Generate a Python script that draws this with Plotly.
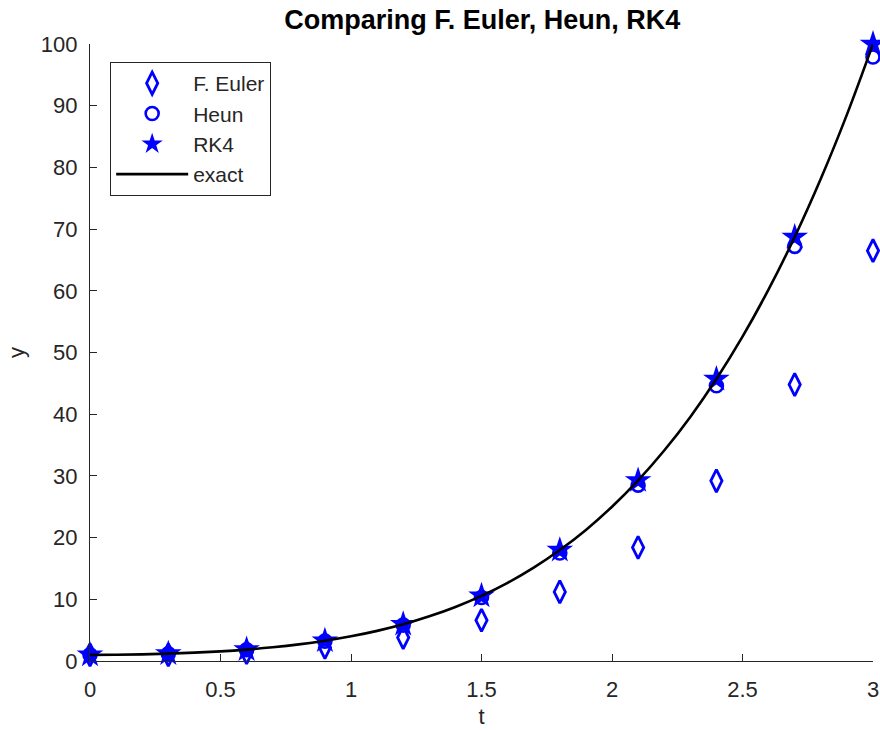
import plotly.graph_objects as go

t_pts = [0.0, 0.3, 0.6, 0.9, 1.2, 1.5, 1.8, 2.1, 2.4, 2.7, 3.0]
euler = [1.0, 1.0, 1.36, 2.2, 3.8, 6.6, 11.2, 18.4, 29.2, 44.8, 66.5]
heun = [1.0, 1.18, 1.83, 3.22, 5.82, 10.3, 17.5, 28.5, 44.6, 67.2, 97.9]
rk4 = [1.0, 1.19, 1.85, 3.28, 5.95, 10.56, 17.97, 29.26, 45.69, 68.71, 99.98]

t_exact = [0.0, 0.1, 0.2, 0.3, 0.4, 0.5, 0.6, 0.7, 0.8, 0.9, 1.0,
           1.1, 1.2, 1.3, 1.4, 1.5, 1.6, 1.7, 1.8, 1.9, 2.0,
           2.1, 2.2, 2.3, 2.4, 2.5, 2.6, 2.7, 2.8, 2.9, 3.0]
y_exact = [1.0, 1.02, 1.08, 1.19, 1.35, 1.56, 1.85, 2.22, 2.69, 3.28, 4.0,
           4.88, 5.95, 7.24, 8.76, 10.56, 12.67, 15.13, 17.98, 21.25, 25.0,
           29.27, 34.11, 39.56, 45.7, 52.56, 60.22, 68.72, 78.15, 88.55, 100.0]

x_ticks = [0, 0.5, 1, 1.5, 2, 2.5, 3]
x_tick_labels = ["0", "0.5", "1", "1.5", "2", "2.5", "3"]
y_ticks = [0, 10, 20, 30, 40, 50, 60, 70, 80, 90, 100]

FONT = "Liberation Sans, Arial, Helvetica"
GRAY = "#262626"
blue = "#0000FF"

fig = go.Figure()
fig.add_trace(go.Scatter(x=t_pts, y=euler, mode="markers", name="F. Euler",
                         marker=dict(symbol="diamond-tall-open", size=16, color=blue,
                                     line=dict(width=2.8, color=blue)), cliponaxis=False))
fig.add_trace(go.Scatter(x=t_pts, y=heun, mode="markers", name="Heun",
                         marker=dict(symbol="circle-open", size=13, color=blue,
                                     line=dict(width=2.6, color=blue)), cliponaxis=False))
fig.add_trace(go.Scatter(x=t_pts, y=rk4, mode="markers", name="RK4",
                         marker=dict(symbol="star", size=20, color=blue,
                                     line=dict(width=0, color=blue)), cliponaxis=False))
fig.add_trace(go.Scatter(x=t_exact, y=y_exact, mode="lines", name="exact",
                         line=dict(color="black", width=2.6, shape="spline")))

axis_common = dict(showgrid=False, zeroline=False, showline=True, linecolor=GRAY,
                   linewidth=1.2, ticks="inside", ticklen=7, tickcolor=GRAY, tickwidth=1.2,
                   tickfont=dict(family=FONT, size=22, color=GRAY),
                   mirror=False, automargin=False)
fig.update_layout(
    width=880, height=731,
    margin=dict(l=90, r=7, t=44, b=70),
    paper_bgcolor="white", plot_bgcolor="white",
    title=dict(text="<b>Comparing F. Euler, Heun, RK4</b>", x=0.548, xanchor="center",
               y=0.973, yanchor="middle",
               font=dict(family=FONT, size=27, color="black")),
    xaxis=dict(range=[0, 3], tickvals=x_ticks, ticktext=x_tick_labels,
               ticklabelstandoff=8,
               title=dict(text="t", font=dict(family=FONT, size=22, color=GRAY), standoff=8),
               **axis_common),
    yaxis=dict(range=[0, 100], tickvals=y_ticks, ticklabelstandoff=7,
               title=dict(text="y", font=dict(family=FONT, size=22, color=GRAY), standoff=10),
               **axis_common),
    legend=dict(x=0.0255, y=0.971, xanchor="left", yanchor="top",
                bgcolor="white", bordercolor=GRAY, borderwidth=1.2,
                font=dict(family=FONT, size=21, color=GRAY),
                tracegroupgap=0, itemwidth=72),
    showlegend=True,
)
fig.write_html("out.html")
